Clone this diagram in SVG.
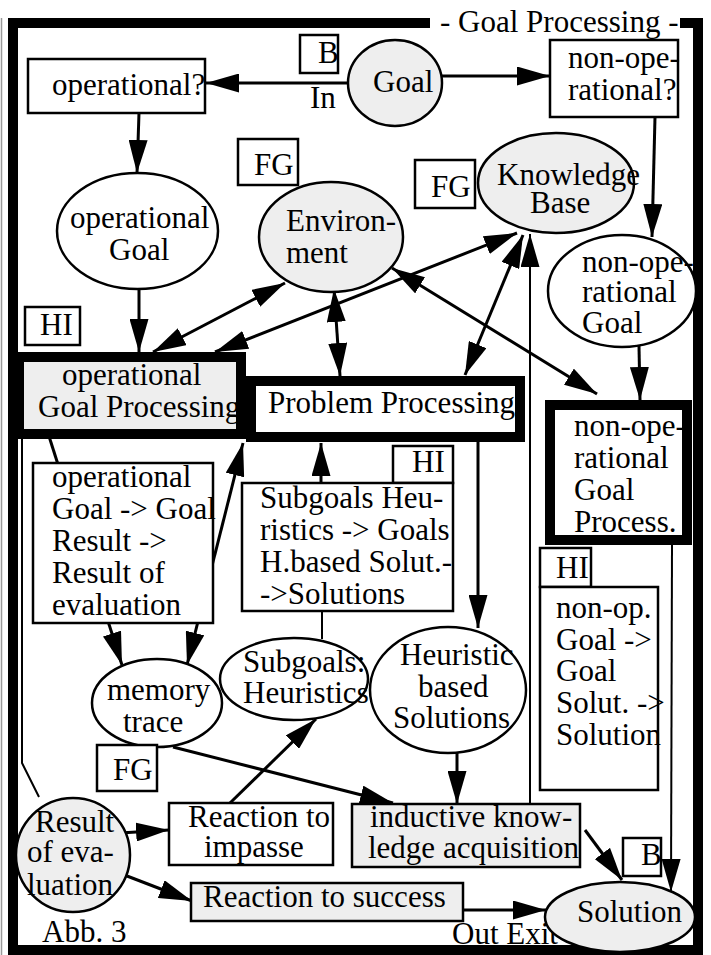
<svg xmlns="http://www.w3.org/2000/svg" width="711" height="955" viewBox="0 0 711 955">
  <style>
    .t { font-family: "Liberation Serif", "Times New Roman", serif; font-size: 31px; fill: #000; }
    .box { fill: #fff; stroke: #000; stroke-width: 2.5; }
    .gbox { fill: #eeeeee; stroke: #000; stroke-width: 2.5; }
    .ell { fill: #fff; stroke: #000; stroke-width: 2.5; }
    .gell { fill: #eeeeee; stroke: #000; stroke-width: 2.5; }
    .frame { fill: none; stroke: #000; stroke-width: 10; }
    .c { fill: none; stroke: #000; stroke-width: 3; }
    .thin { stroke-width: 2; }
    .one { marker-end: url(#ah); }
    .two { marker-start: url(#ah); marker-end: url(#ah); }
  </style>
  <defs>
    <marker id="ah" markerUnits="userSpaceOnUse" markerWidth="33" markerHeight="19" viewBox="0 0 33 19" refX="33" refY="9.5" orient="auto-start-reverse">
      <path d="M0,0 L33,9.5 L0,19 z" fill="#000"/>
    </marker>
  </defs>

  <rect width="711" height="955" fill="#fff"/>

  <!-- outer frame with the title set into the top edge -->
  <g id="frame">
    <line x1="1.5" y1="18" x2="1.5" y2="955" stroke="#999" stroke-width="1.5"/>
    <path class="frame" d="M430,23 H13 V950 H698 V23 H680"/>
    <text class="t" x="440" y="32">- Goal Processing -</text>
    <text class="t" x="42" y="942">Abb. 3</text>
    <text class="t" x="452" y="944">Out Exit</text>
  </g>

  <!-- connectors -->
  <g id="connectors">
    <path class="c one" d="M350,83 L206,83"/>
    <path class="c one" d="M442,76 L550,76"/>
    <path class="c one" d="M139,113 L137,173"/>
    <path class="c one" d="M655,117 L652,237"/>
    <path class="c one" d="M139,289 L139,352"/>
    <path class="c two" d="M153,352 L285,283"/>
    <path class="c two" d="M215,352 L517,233"/>
    <path class="c two" d="M334,289 L340,376"/>
    <path class="c two" d="M465,375 L523,235"/>
    <path class="c two" d="M392,268 L597,394"/>
    <path class="c one" d="M639,346 L640,400"/>
    <path class="c one" d="M478,442 L478,628"/>
    <path class="c one" d="M321,483 L321,443"/>
    <path class="c two" d="M187,665 L243,443"/>
    <path class="c one" d="M47,430 L122,665"/>
    <path class="c thin" d="M22,430 V763 L39,797"/>
    <path class="c thin" d="M322,611 V639"/>
    <path class="c one" d="M173,747 L393,803"/>
    <path class="c one" d="M230,803 L316,719"/>
    <path class="c one" d="M120,833 L169,830"/>
    <path class="c one" d="M127,876 L192,901"/>
    <path class="c one" d="M463,910 L546,910"/>
    <path class="c one" d="M457,753 L457,804"/>
    <path class="c one" d="M585,830 L622,880"/>
    <path class="c thin one" d="M530,804 L530,234"/>
    <path class="c thin one" d="M672,545 L671,892"/>
  </g>

  <!-- nodes -->
  <g id="b-in">
    <rect class="box" x="300" y="35" width="38" height="38"/>
    <text class="t" x="318" y="63">B</text>
    <text class="t" x="310" y="108">In</text>
  </g>
  <g id="goal">
    <ellipse class="gell" cx="395" cy="83" rx="47" ry="43"/>
    <text class="t" x="373" y="92">Goal</text>
  </g>
  <g id="operational-q">
    <rect class="box" x="28" y="59" width="177" height="54"/>
    <text class="t" x="52" y="95">operational?</text>
  </g>
  <g id="non-operational-q">
    <rect class="box" x="550" y="40" width="128" height="77"/>
    <text class="t" x="568" y="68">non-ope-</text>
    <text class="t" x="568" y="100">rational?</text>
  </g>
  <g id="fg-env">
    <rect class="box" x="238" y="139" width="60" height="46"/>
    <text class="t" x="254" y="175">FG</text>
  </g>
  <g id="fg-kb">
    <rect class="box" x="415" y="160" width="60" height="48"/>
    <text class="t" x="431" y="197">FG</text>
  </g>
  <g id="operational-goal">
    <ellipse class="ell" cx="137.5" cy="231" rx="80.5" ry="58"/>
    <text class="t" x="70" y="228">operational</text>
    <text class="t" x="109" y="260">Goal</text>
  </g>
  <g id="environment">
    <ellipse class="gell" cx="331" cy="237" rx="72" ry="55"/>
    <text class="t" x="286" y="231">Environ-</text>
    <text class="t" x="286" y="263">ment</text>
  </g>
  <g id="knowledge-base">
    <ellipse class="gell" cx="556" cy="183" rx="78" ry="50"/>
    <text class="t" x="497" y="185">Knowledge</text>
    <text class="t" x="530" y="213">Base</text>
  </g>
  <g id="non-operational-goal">
    <ellipse class="ell" cx="622" cy="291" rx="74" ry="56"/>
    <text class="t" x="582" y="272">non-ope-</text>
    <text class="t" x="582" y="302">rational</text>
    <text class="t" x="582" y="333">Goal</text>
  </g>
  <g id="hi-left">
    <rect class="box" x="25" y="307" width="55" height="38"/>
    <text class="t" x="40" y="335">HI</text>
  </g>
  <g id="operational-goal-processing">
    <rect x="19" y="357" width="222" height="77" fill="#eeeeee"/>
    <text class="t" x="62" y="385">operational</text>
    <text class="t" x="38" y="417">Goal Processing</text>
    <rect class="frame" x="19" y="357" width="222" height="77"/>
  </g>
  <g id="problem-processing">
    <rect x="251" y="381" width="269" height="56" fill="#fff"/>
    <text class="t" x="268" y="413">Problem Processing</text>
    <rect class="frame" x="251" y="381" width="269" height="56"/>
  </g>
  <g id="non-operational-goal-process">
    <rect x="550" y="405" width="137" height="135" fill="#fff"/>
    <text class="t" x="574" y="436">non-ope-</text>
    <text class="t" x="574" y="468">rational</text>
    <text class="t" x="574" y="500">Goal</text>
    <text class="t" x="574" y="532">Process.</text>
    <rect class="frame" x="550" y="405" width="137" height="135"/>
  </g>
  <g id="operational-goal-rules">
    <rect class="box" x="33" y="463" width="180" height="160"/>
    <text class="t" x="52" y="487">operational</text>
    <text class="t" x="52" y="519">Goal -&gt; Goal</text>
    <text class="t" x="52" y="551">Result -&gt;</text>
    <text class="t" x="52" y="583">Result of</text>
    <text class="t" x="52" y="615">evaluation</text>
  </g>
  <g id="hi-subgoals">
    <rect class="box" x="393" y="446" width="60" height="37"/>
    <text class="t" x="412" y="472">HI</text>
  </g>
  <g id="subgoals-rules">
    <rect class="box" x="242" y="483" width="211" height="128"/>
    <text class="t" x="260" y="508">Subgoals Heu-</text>
    <text class="t" x="260" y="540">ristics -&gt; Goals</text>
    <text class="t" x="260" y="572">H.based Solut.-</text>
    <text class="t" x="260" y="604">-&gt;Solutions</text>
  </g>
  <g id="hi-right">
    <rect class="box" x="540" y="548" width="51" height="39"/>
    <text class="t" x="556" y="578">HI</text>
  </g>
  <g id="non-operational-rules">
    <rect class="box" x="540" y="587" width="118" height="203"/>
    <text class="t" x="556" y="618">non-op.</text>
    <text class="t" x="556" y="650">Goal -&gt;</text>
    <text class="t" x="556" y="681">Goal</text>
    <text class="t" x="556" y="713">Solut. -&gt;</text>
    <text class="t" x="556" y="745">Solution</text>
  </g>
  <g id="subgoals-heuristics">
    <ellipse class="ell" cx="294" cy="679" rx="74" ry="41"/>
    <text class="t" x="243" y="672">Subgoals:</text>
    <text class="t" x="243" y="703">Heuristics</text>
  </g>
  <g id="heuristic-solutions">
    <ellipse class="ell" cx="448" cy="690" rx="78" ry="63"/>
    <text class="t" x="400" y="665">Heuristic</text>
    <text class="t" x="418" y="697">based</text>
    <text class="t" x="393" y="728">Solutions</text>
  </g>
  <g id="memory-trace">
    <ellipse class="ell" cx="157" cy="703" rx="65" ry="44"/>
    <text class="t" x="107" y="700">memory</text>
    <text class="t" x="123" y="732">trace</text>
  </g>
  <g id="fg-memory">
    <rect class="box" x="97" y="745" width="60" height="46"/>
    <text class="t" x="113" y="780">FG</text>
  </g>
  <g id="result-of-evaluation">
    <ellipse class="gell" cx="73" cy="855" rx="57" ry="57"/>
    <text class="t" x="35" y="832">Result</text>
    <text class="t" x="27" y="862">of eva-</text>
    <text class="t" x="27" y="895">luation</text>
  </g>
  <g id="reaction-impasse">
    <rect class="box" x="169" y="803" width="164" height="62"/>
    <text class="t" x="188" y="827">Reaction to</text>
    <text class="t" x="204" y="857">impasse</text>
  </g>
  <g id="inductive-acquisition">
    <rect class="gbox" x="352" y="804" width="228" height="63"/>
    <text class="t" x="370" y="827">inductive know-</text>
    <text class="t" x="368" y="858">ledge acquisition</text>
  </g>
  <g id="reaction-success">
    <rect class="gbox" x="191" y="883" width="272" height="38"/>
    <text class="t" x="203" y="907">Reaction to success</text>
  </g>
  <g id="b-out">
    <rect class="box" x="623" y="838" width="38" height="38"/>
    <text class="t" x="641" y="865">B</text>
  </g>
  <g id="solution">
    <ellipse class="gell" cx="620" cy="917" rx="75" ry="35"/>
    <text class="t" x="577" y="922">Solution</text>
  </g>
</svg>
